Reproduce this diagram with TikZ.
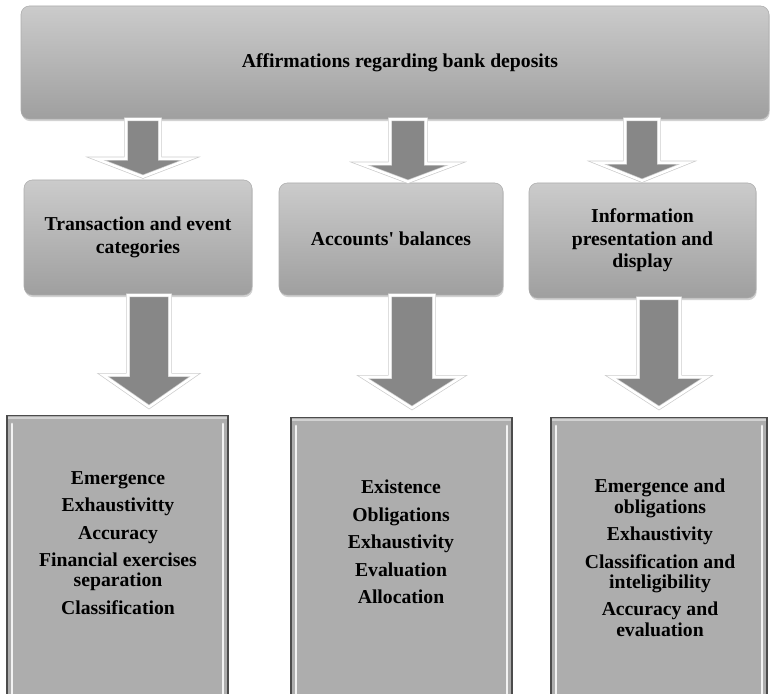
\documentclass[tikz,border=0pt]{standalone}
\usepackage{fontspec}
\setmainfont{Liberation Serif}
\usetikzlibrary{calc,shadows}
\definecolor{boxtop}{HTML}{CBCBCB}
\definecolor{boxbot}{HTML}{9F9F9F}
\definecolor{arrowgray}{HTML}{878787}
\definecolor{listgray}{HTML}{ADADAD}
\newcommand\pxu{0.025cm}
% block arrow: start, tip, shaft half width, head half width, head length (in px)
\newcommand\blockarrow[5]{%
  \path[arrowbody] let \p1=(#1), \p2=(#2) in
    (\x1-#3*\pxu,\y1) -- (\x1+#3*\pxu,\y1) -- (\x1+#3*\pxu,\y2+#5*\pxu)
    -- (\x1+#4*\pxu,\y2+#5*\pxu) -- (\x1,\y2) -- (\x1-#4*\pxu,\y2+#5*\pxu)
    -- (\x1-#3*\pxu,\y2+#5*\pxu) -- cycle;}
\tikzset{
  headbox/.style={rounded corners=6pt, top color=boxtop, bottom color=boxbot,
    draw=boxbot!85!white, line width=0.4pt, inner sep=0pt, align=center,
    drop shadow={shadow xshift=0.5pt, shadow yshift=-1.5pt, opacity=0.35},
    font=\fontsize{14}{16}\selectfont\bfseries},
  listbox/.style={fill=listgray, draw=black!70, line width=0.8pt, anchor=north,
    path picture={
      \draw[white, line width=2pt, line cap=round, opacity=0.85]
        ([xshift=3.5pt,yshift=-6pt]path picture bounding box.north west)
        -- ([xshift=3.5pt]path picture bounding box.south west);
      \draw[white, line width=2pt, line cap=round, opacity=0.85]
        ([xshift=-3.5pt,yshift=-6pt]path picture bounding box.north east)
        -- ([xshift=-3.5pt]path picture bounding box.south east);
      \draw[gray!35, line width=1.2pt]
        ([yshift=-1.5pt]path picture bounding box.north west)
        -- ([yshift=-1.5pt]path picture bounding box.north east);}},
  listtext/.style={anchor=north, align=center, inner sep=0pt,
    font=\fontsize{14}{14.5}\selectfont\bfseries},
  arrowbody/.style={fill=arrowgray, draw=gray!40, double=white,
    double distance=1.8pt, line width=0.5pt}
}
\begin{document}
\begin{tikzpicture}[x=\pxu,y=-\pxu]
        \clip (0,0) rectangle (771,694);
        \fill[white] (0,0) rectangle (771,694);
        \node[headbox, minimum width=748*\pxu, minimum height=113*\pxu] (top) at (395,62.5) {\hspace*{0.25cm}Affirmations regarding bank deposits};
        \node[headbox, minimum width=228*\pxu, minimum height=115*\pxu] (m1) at (138,237.5) {Transaction and event\\categories};
        \node[headbox, minimum width=224*\pxu, minimum height=112*\pxu] (m2) at (391,239) {Accounts\textquotesingle{} balances};
        \node[headbox, minimum width=227*\pxu, minimum height=115*\pxu] (m3) at (642.5,240.5) {Information\\presentation and\\display};
        \node[listbox, minimum width=221*\pxu, minimum height=300*\pxu] (b1) at (117.5,415) {};
        \node[listbox, minimum width=221*\pxu, minimum height=300*\pxu] (b2) at (401.5,417) {};
        \node[listbox, minimum width=216*\pxu, minimum height=300*\pxu] (b3) at (659,417) {};
        \node[listtext] (t1) at (118,471) {Emergence\\[5pt]Exhaustivitty\\[5pt]Accuracy\\[5pt]Financial exercises\\separation\\[5pt]Classification};
        \node[listtext] (t2) at (401,480) {Existence\\[5pt]Obligations\\[5pt]Exhaustivity\\[5pt]Evaluation\\[5pt]Allocation};
        \node[listtext] (t3) at (660,479) {Emergence and\\obligations\\[5pt]Exhaustivity\\[5pt]Classification and\\inteligibility\\[5pt]Accuracy and\\evaluation};
        \blockarrow{143,0 |- top.south}{$(143,0 |- m1.north)+(0,-3)$}{17}{47}{18}
        \blockarrow{408,0 |- top.south}{$(408,0 |- m2.north)+(0,-1)$}{18}{48}{18}
        \blockarrow{642,0 |- top.south}{$(642,0 |- m3.north)+(0,-2)$}{17}{45}{18}
        \blockarrow{149,0 |- m1.south}{$(149,0 |- b1.north)+(0,-8)$}{21}{46}{32}
        \blockarrow{412,0 |- m2.south}{$(412,0 |- b2.north)+(0,-9)$}{22}{49}{31}
        \blockarrow{659,0 |- m3.south}{$(659,0 |- b3.north)+(0,-9)$}{21}{48}{31}
    \end{tikzpicture}
\end{document}
